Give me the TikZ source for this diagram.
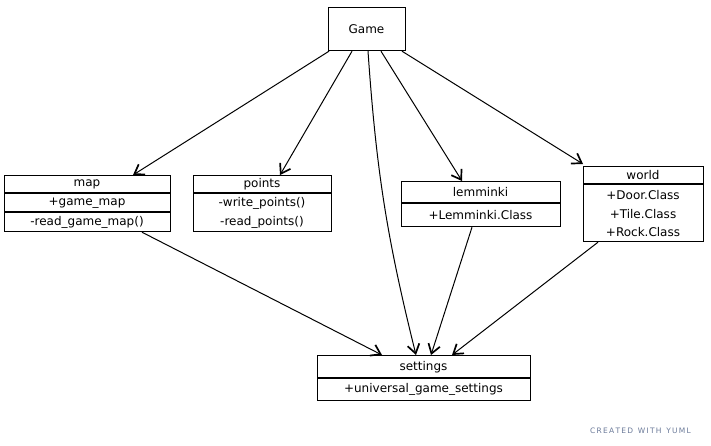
\documentclass[tikz,border=0pt]{standalone}
\usepackage{fontspec}
\setmainfont{DejaVu Sans}
\usetikzlibrary{arrows.meta}
\begin{document}
\begin{tikzpicture}[x=1pt,y=-1pt,
  box/.style={draw=black,line width=1.2pt,rectangle,inner sep=0pt,anchor=north west},
  sep/.style={line width=1.1pt},
  lbl/.style={inner sep=0pt,font=\fontsize{12}{14}\selectfont},
  conn/.style={line width=1pt,-{Straight Barb[length=9pt,width=12pt,line width=1.7pt]}},
  wm/.style={inner sep=0pt,text=yumlgray,font=\fontsize{7.5}{9}\selectfont}]
\definecolor{yumlgray}{HTML}{6B7A99}
\useasboundingbox[fill=white] (0,0) rectangle (711,445);
% Game
\node[box,minimum width=77pt,minimum height=43pt] (game) at (328,7) {};
\node[lbl] (gamet) at (366.5,29) {Game};
% map
\node[box,minimum width=166pt,minimum height=56pt] (map) at (4,175) {};
\draw[sep] (4,193) -- (170,193);
\draw[sep] (4,212) -- (170,212);
\node[lbl] (mapt) at (87,184.5) {map};
\node[lbl] (mapa) at (87,203) {+game\_map};
\node[lbl] (mapb) at (87,222) {-read\_game\_map()};
% points
\node[box,minimum width=138pt,minimum height=56pt] (points) at (193,175) {};
\draw[sep] (193,193) -- (331,193);
\node[lbl] (pointst) at (262,184.5) {points};
\node[lbl] (pointsa) at (262,203) {-write\_points()};
\node[lbl] (pointsb) at (262,222) {-read\_points()};
% lemminki
\node[box,minimum width=159pt,minimum height=45pt] (lem) at (401,181) {};
\draw[sep] (401,203) -- (560,203);
\node[lbl] (lemt) at (480.5,192.5) {lemminki};
\node[lbl] (lema) at (480.5,215) {+Lemminki.Class};
% world
\node[box,minimum width=120pt,minimum height=75pt] (world) at (583,166) {};
\draw[sep] (583,184) -- (703,184);
\node[lbl] (worldt) at (643,175.5) {world};
\node[lbl] (worlda) at (643,195) {+Door.Class};
\node[lbl] (worldb) at (643,214) {+Tile.Class};
\node[lbl] (worldc) at (643,232.5) {+Rock.Class};
% settings
\node[box,minimum width=213pt,minimum height=45pt] (set) at (317,355) {};
\draw[sep] (317,378) -- (530,378);
\node[lbl] (sett) at (423.5,367) {settings};
\node[lbl] (seta) at (423.5,389.5) {+universal\_game\_settings};
% connectors
\draw[conn] ([xshift=1pt]game.south west) -- ([xshift=129pt]map.north west);
\draw[conn] ([xshift=24pt]game.south west) -- ([xshift=87pt]points.north west);
\draw[conn] ([xshift=40pt]game.south west) to[bend right=5] ([xshift=99pt]set.north west);
\draw[conn] ([xshift=53pt]game.south west) -- ([xshift=61pt]lem.north west);
\draw[conn] ([xshift=74pt]game.south west) -- ([yshift=2pt]world.north west);
\draw[conn] ([xshift=138pt]map.south west) -- ([xshift=65pt]set.north west);
\draw[conn] ([xshift=71pt]lem.south west) -- ([xshift=114pt]set.north west);
\draw[conn] ([xshift=15pt]world.south west) -- ([xshift=135pt]set.north west);
% watermark
\node[wm,anchor=west] (credit) at (590,431) {C\,R\,E\,A\,T\,E\,D\ \ W\,I\,T\,H\ \ Y\,U\,M\,L};
\end{tikzpicture}
\end{document}
